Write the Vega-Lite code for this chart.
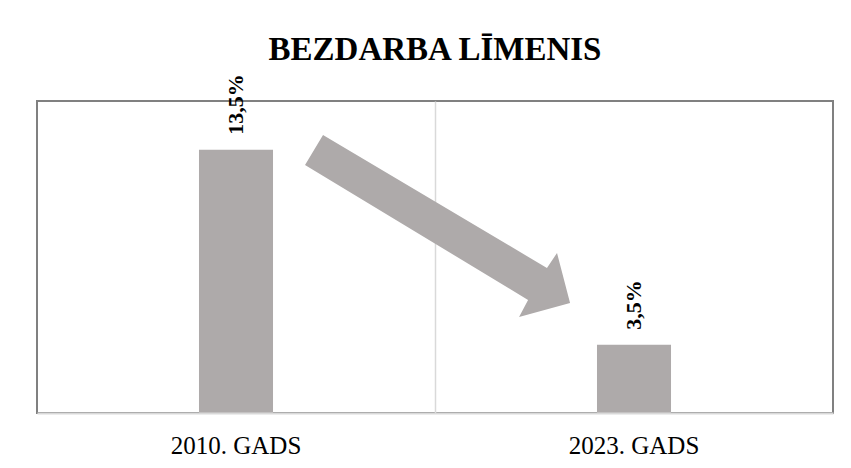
{
  "$schema": "https://vega.github.io/schema/vega-lite/v6.json",
  "width": 796,
  "height": 312,
  "autosize": {"type": "none"},
  "padding": {"left": 37, "top": 101, "right": 18, "bottom": 55},
  "background": "white",
  "title": {
    "text": "BEZDARBA LĪMENIS",
    "font": "Liberation Serif",
    "fontSize": 33,
    "fontWeight": "bold",
    "color": "#000000",
    "anchor": "middle",
    "frame": "group",
    "baseline": "alphabetic",
    "offset": 41,
    "dy": 60
  },
  "config": {
    "view": {"stroke": "#808080", "strokeWidth": 2},
    "font": "Liberation Serif"
  },
  "datasets": {
    "bars": [
      {"year": "2010. GADS", "value": 13.5, "label": "13,5%"},
      {"year": "2023. GADS", "value": 3.5, "label": "3,5%"}
    ],
    "arrow": [
      {"px": 1.0126, "py": 9.59}
    ]
  },
  "layer": [
    {
      "data": {"name": "arrow"},
      "mark": {
        "type": "point",
        "shape": "M -0.78 -0.607 L 0.713 0.28 L 0.78 0.18 L 0.867 0.513 L 0.527 0.607 L 0.587 0.493 L -0.9 -0.407 Z",
        "filled": true,
        "size": 90000,
        "color": "#AEAAAA",
        "opacity": 1,
        "strokeWidth": 0
      },
      "encoding": {
        "x": {
          "field": "px",
          "type": "quantitative",
          "scale": {"domain": [0, 2], "nice": false, "zero": false},
          "axis": {
            "orient": "top",
            "values": [1],
            "grid": true,
            "gridColor": "#D9D9D9",
            "gridWidth": 1.5,
            "labels": false,
            "ticks": false,
            "domain": false,
            "title": null
          }
        },
        "y": {
          "field": "py",
          "type": "quantitative",
          "scale": {"domain": [0, 16], "nice": false},
          "axis": null
        }
      }
    },
    {
      "data": {"name": "bars"},
      "encoding": {
        "x": {
          "field": "year",
          "type": "nominal",
          "sort": null,
          "scale": {"paddingInner": 0.814, "paddingOuter": 0.407},
          "axis": {
            "orient": "bottom",
            "title": null,
            "labelAngle": 0,
            "ticks": false,
            "domain": true,
            "domainColor": "#D9D9D9",
            "domainWidth": 2,
            "grid": false,
            "labelFont": "Liberation Serif",
            "labelFontSize": 25,
            "labelColor": "#000000",
            "labelPadding": 40,
            "labelBaseline": "alphabetic",
            "zindex": 1
          }
        },
        "y": {
          "field": "value",
          "type": "quantitative",
          "scale": {"domain": [0, 16], "nice": false},
          "axis": null
        }
      },
      "layer": [
        {"mark": {"type": "bar", "color": "#AEAAAA"}},
        {
          "mark": {
            "type": "text",
            "angle": 270,
            "align": "left",
            "baseline": "middle",
            "dx": 15,
            "font": "Liberation Serif",
            "fontSize": 22,
            "fontWeight": "bold",
            "color": "#000000"
          },
          "encoding": {"text": {"field": "label"}}
        }
      ]
    }
  ],
  "resolve": {"scale": {"x": "independent"}}
}
